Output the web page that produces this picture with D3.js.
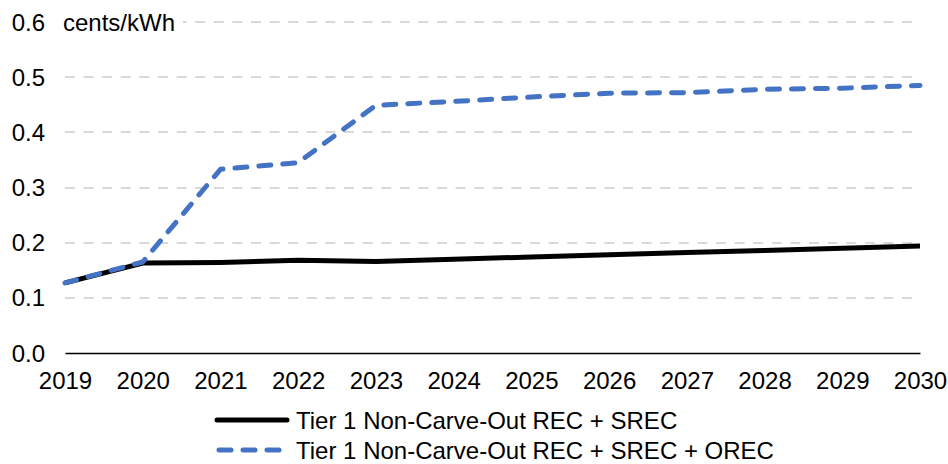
<!DOCTYPE html>
<html><head><meta charset="utf-8">
<script src="https://cdn.jsdelivr.net/npm/d3@7"></script>
<style>body{margin:0;background:#fff}svg{display:block;font-family:"Liberation Sans",Arial,sans-serif}</style>
</head><body><svg id="c" width="948" height="464"></svg>
<script>
const years = [2019,2020,2021,2022,2023,2024,2025,2026,2027,2028,2029,2030];
const recSrec = [0.127,0.163,0.164,0.168,0.166,0.170,0.174,0.178,0.182,0.186,0.190,0.194];
const recSrecOrec = [0.127,0.165,0.333,0.345,0.449,0.456,0.464,0.471,0.472,0.478,0.480,0.485];
const yTicks = [0,0.1,0.2,0.3,0.4,0.5,0.6];
const seriesNames = ["Tier 1 Non-Carve-Out REC + SREC","Tier 1 Non-Carve-Out REC + SREC + OREC"];
const unitLabel = "cents/kWh";

const FS = 24;
const svg = d3.select("#c");
const x = d3.scaleLinear().domain([2019,2030]).range([65,920]);
const y = d3.scaleLinear().domain([0,0.6]).range([353,22]);

// gridlines
svg.append("g").selectAll("line").data(yTicks.filter(d=>d>0)).join("line")
  .attr("x1",65).attr("x2",918)
  .attr("y1",d=>Math.round(y(d))).attr("y2",d=>Math.round(y(d)))
  .attr("stroke","#d9d9d9").attr("stroke-width",2).attr("stroke-dasharray","10,8.6");
// cover gridline at 0.6 under the unit label
svg.append("rect").attr("x",58).attr("y",8).attr("width",125).attr("height",28).attr("fill","#fff");

// y labels
svg.append("g").selectAll("text").data(yTicks).join("text")
  .attr("x",45).attr("y",d=>y(d)).attr("dy","0.36em").attr("text-anchor","end")
  .attr("font-size",FS).attr("fill","#000").text(d=>d3.format(".1f")(d));
svg.append("text").attr("x",63).attr("y",y(0.6)).attr("dy","0.36em")
  .attr("font-size",FS).attr("fill","#000").text(unitLabel);

// x axis
const xAxis = d3.axisBottom(x).tickValues(years).tickFormat(d3.format("d")).tickSize(0).tickPadding(19);
const gx = svg.append("g").attr("transform","translate(0,353)").call(xAxis);
gx.select(".domain").attr("stroke","#000").attr("stroke-width",1.5);
gx.selectAll("text").attr("font-size",FS).attr("fill","#000").attr("font-family","Liberation Sans, Arial, sans-serif");

const line = d3.line().x((d,i)=>x(years[i])).y(d=>y(d));
svg.append("path").datum(recSrec).attr("d",line).attr("fill","none")
  .attr("stroke","#000").attr("stroke-width",5).attr("stroke-linejoin","round");
svg.append("path").datum(recSrecOrec).attr("d",line).attr("fill","none")
  .attr("stroke","#4472c4").attr("stroke-width",5).attr("stroke-linecap","round")
  .attr("stroke-linejoin","round").attr("stroke-dasharray","12,12");

// legend
const leg = svg.append("g");
const items = [{n:seriesNames[0],c:"#000",dash:null,y:420},{n:seriesNames[1],c:"#4472c4",dash:"12,12",y:450}];
items.forEach(it=>{
  leg.append("line").attr("x1",it.dash?219:217).attr("x2",it.dash?282:287).attr("y1",it.y).attr("y2",it.y)
    .attr("stroke",it.c).attr("stroke-width",5).attr("stroke-linecap","round")
    .attr("stroke-dasharray",it.dash);
  leg.append("text").attr("x",296).attr("y",it.y).attr("dy","0.36em").attr("font-size",FS)
    .attr("fill","#000").text(it.n);
});
</script></body></html>
